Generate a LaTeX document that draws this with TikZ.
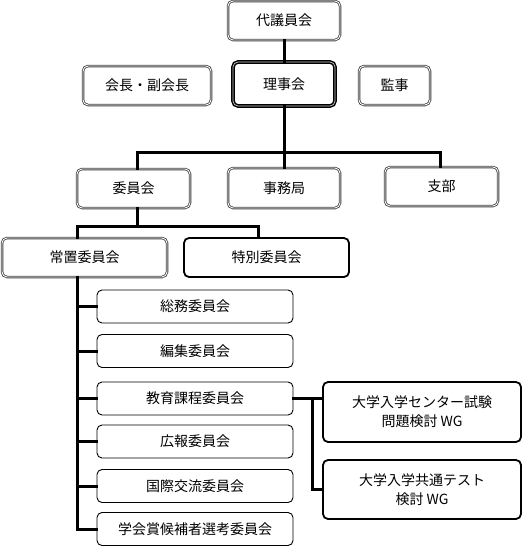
\documentclass[tikz,border=0pt]{standalone}
\usepackage{fontspec}
\setmainfont{Noto Sans CJK JP}
\usetikzlibrary{calc}

\tikzset{
  unit/.style={rounded corners=5pt, inner sep=0pt, align=center,
    font=\fontsize{14}{19}\selectfont, fill=white},
  dbox/.style={unit, draw=gray!50!black, double=white, double distance=0.9pt, line width=0.8pt},
  bbox/.style={unit, draw=black, double=gray!40, double distance=0.7pt, line width=1.5pt},
  tbox/.style={unit, draw=black, line width=1.8pt},
  sbox/.style={unit, draw=black, line width=0.9pt, minimum width=196pt, minimum height=33pt},
  conn/.style={line width=3pt, line cap=rect}
}

\begin{document}
\begin{tikzpicture}[x=1pt, y=-1pt]
  \useasboundingbox (0,0) rectangle (530,546);
  % top level
  \node[dbox, minimum width=112pt, minimum height=39pt] (daigi) at (284,20.5) {代議員会};
  \node[dbox, minimum width=128pt, minimum height=39pt] (kaicho) at (147,85.5) {会長・副会長};
  \node[bbox, minimum width=102pt, minimum height=44pt] (riji) at (284,84) {理事会};
  \node[dbox, minimum width=71pt, minimum height=39pt] (kanji) at (394.5,85.5) {監事};
  % second level
  \node[dbox, minimum width=113pt, minimum height=39pt] (iinkai) at (133.5,188.5) {委員会};
  \node[dbox, minimum width=112pt, minimum height=40pt] (jimu) at (284,188) {事務局};
  \node[dbox, minimum width=113pt, minimum height=39pt] (shibu) at (441.5,186.5) {支部};
  % committees
  \node[dbox, minimum width=165pt, minimum height=39pt] (jochi) at (84.5,257.5) {常置委員会};
  \node[tbox, minimum width=165pt, minimum height=39pt] (tokubetsu) at (266.5,257.5) {特別委員会};
  % standing committees
  \node[sbox] (somu) at (195,306.5) {総務委員会};
  \node[sbox] (henshu) at (195,351) {編集委員会};
  \node[sbox] (kyoiku) at (195,398.5) {教育課程委員会};
  \node[sbox] (koho) at (195,441.5) {広報委員会};
  \node[sbox] (kokusai) at (195,486) {国際交流委員会};
  \node[sbox] (gakkai) at (195,529) {学会賞候補者選考委員会};
  % working groups
  \node[tbox, minimum width=198pt, minimum height=60pt] (wgA) at (422,412)
    {大学入学センター試験\\問題検討 WG};
  \node[tbox, minimum width=198pt, minimum height=59pt] (wgB) at (422,489.5)
    {大学入学共通テスト\\検討 WG};

  % connectors
  \coordinate (hub) at (284,152);
  \coordinate (hubB) at (137,226);
  \coordinate (trunk) at ([xshift=-7.5pt]jochi.south);
  \coordinate (fork) at (312,0);
  \draw[conn] (daigi) -- (riji);
  \draw[conn] (riji.south) -- (hub);
  \draw[conn] ([xshift=3.5pt]iinkai.north) |- (hub) -| ([xshift=-1.5pt]shibu.north);
  \draw[conn] (hub) -- (jimu.north);
  \draw[conn] ([xshift=3.5pt]iinkai.south) -- (hubB);
  \draw[conn] (trunk |- jochi.north) |- (hubB) -| ([xshift=-8.5pt]tokubetsu.north);
  \draw[conn] (trunk) |- (gakkai.west);
  \foreach \c in {somu,henshu,kyoiku,koho,kokusai}
    \draw[conn] (trunk |- \c.west) -- (\c.west);
  \draw[conn] (kyoiku.east) -- (kyoiku.east -| wgA.west);
  \draw[conn] (kyoiku.east -| fork) |- (wgB.west);
\end{tikzpicture}
\end{document}
